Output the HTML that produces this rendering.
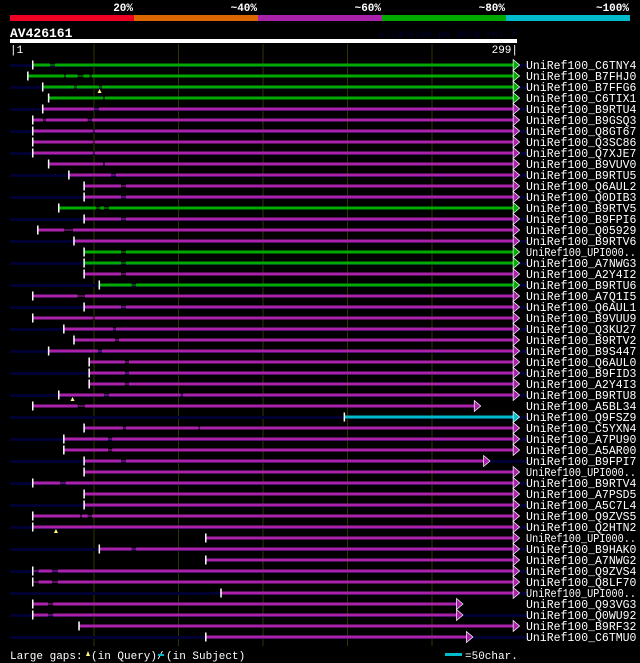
<!DOCTYPE html>
<html><head><meta charset="utf-8"><style>
body{margin:0;background:#000;width:640px;height:663px;overflow:hidden}
svg{display:block}
text{font-family:"Liberation Mono",monospace}
</style></head><body>
<svg id="c" width="640" height="663" xmlns="http://www.w3.org/2000/svg">
<rect x="0" y="0" width="640" height="663" fill="#000"/>
<g>
<rect x="10" y="15" width="124" height="6" fill="#ee0022"/>
<rect x="134" y="15" width="124" height="6" fill="#dd6600"/>
<rect x="258" y="15" width="124" height="6" fill="#aa22aa"/>
<rect x="382" y="15" width="124" height="6" fill="#00aa00"/>
<rect x="506" y="15" width="124" height="6" fill="#00bbcc"/>
<text x="133" y="11" fill="#fff" font-size="11" font-weight="bold" text-anchor="end">20%</text>
<text x="257" y="11" fill="#fff" font-size="11" font-weight="bold" text-anchor="end">~40%</text>
<text x="381" y="11" fill="#fff" font-size="11" font-weight="bold" text-anchor="end">~60%</text>
<text x="505" y="11" fill="#fff" font-size="11" font-weight="bold" text-anchor="end">~80%</text>
<text x="629" y="11" fill="#fff" font-size="11" font-weight="bold" text-anchor="end">~100%</text>
</g>
<text x="10" y="37" fill="#fff" font-size="13" font-weight="bold">AV426161</text>
<text x="516" y="37" fill="#000033" font-size="10" text-anchor="end">AlignView.pm Beta rel.7</text>
<rect x="10" y="39" width="507" height="4" fill="#fff"/>
<text x="10" y="53" fill="#fff" font-size="11">|1</text>
<text x="518" y="53" fill="#fff" font-size="11" text-anchor="end">299|</text>
<g id="grid"></g>
<g id="rows"></g>
<g>
<text x="10" y="659" fill="#fff" font-size="11">Large gaps:</text>
<polygon points="86,656 88,651 90,656" fill="#ffff88"/>
<text x="91" y="659" fill="#fff" font-size="11">(in Query)/</text>
<rect x="158" y="654" width="6" height="2" fill="#00bbcc"/>
<text x="166" y="659" fill="#fff" font-size="11">(in Subject)</text>
<rect x="445" y="653" width="17" height="3" fill="#00bbcc"/>
<text x="465" y="659" fill="#fff" font-size="11">=50char.</text>
</g>
</svg>
<script>
const names=["UniRef100_C6TNY4","UniRef100_B7FHJ0","UniRef100_B7FFG6","UniRef100_C6TIX1","UniRef100_B9RTU4","UniRef100_B9GSQ3","UniRef100_Q8GT67","UniRef100_Q3SC86","UniRef100_Q7XJE7","UniRef100_B9VUV0","UniRef100_B9RTU5","UniRef100_Q6AUL2","UniRef100_Q0DIB3","UniRef100_B9RTV5","UniRef100_B9FPI6","UniRef100_Q05929","UniRef100_B9RTV6","UniRef100_UPI000..","UniRef100_A7NWG3","UniRef100_A2Y4I2","UniRef100_B9RTU6","UniRef100_A7Q1I5","UniRef100_Q6AUL1","UniRef100_B9VUU9","UniRef100_Q3KU27","UniRef100_B9RTV2","UniRef100_B9S447","UniRef100_Q6AUL0","UniRef100_B9FID3","UniRef100_A2Y4I3","UniRef100_B9RTU8","UniRef100_A5BL34","UniRef100_Q9FSZ9","UniRef100_C5YXN4","UniRef100_A7PU90","UniRef100_A5AR00","UniRef100_B9FPI7","UniRef100_UPI000..","UniRef100_B9RTV4","UniRef100_A7PSD5","UniRef100_A5C7L4","UniRef100_Q9ZVS5","UniRef100_Q2HTN2","UniRef100_UPI000..","UniRef100_B9HAK0","UniRef100_A7NWG2","UniRef100_Q9ZVS4","UniRef100_Q8LF70","UniRef100_UPI000..","UniRef100_Q93VG3","UniRef100_Q0WU92","UniRef100_B9RF32","UniRef100_C6TMU0"];
const starts=[13.6,10.7,19.5,23,19.5,13.6,13.6,13.6,13.6,23,35,44,44,29,44,16.6,38,44,44,44,53,13.6,44,13.6,32,38,23,47,47,47,29,13.6,198,44,32,32,44,44,13.6,44,44,13.6,13.6,116,53,116,13.6,13.6,125,13.6,13.6,41,116];
const ends=[298,298,298,298,298,298,298,298,298,298,298,298,298,298,298,298,298,298,298,298,298,298,298,298,298,298,298,298,298,298,298,275,298,298,298,298,280.5,298,298,298,298,298,298,298,298,298,298,298,298,264.5,264.5,298,270.4];
const identity=["g","g","g","g","p","p","p","p","p","p","p","p","p","g","p","p","p","g","g","p","g","p","p","p","p","p","p","p","p","p","p","p","c","p","p","p","p","p","p","p","p","p","p","p","p","p","p","p","p","p","p","p","p"];
const gaps=[[[23.7,26.6]],[[32,33],[40,43.5],[47,48.5]],[[38,39.5],[52.6,54.4]],[[55,56.2]],[[49.7,52.6]],[[19.5,21.3],[46,48.5]],[[49,50.3]],[[49,50.3]],[[49,50.3]],[[55,56.2]],[[59.8,62.7]],[[65.7,68.6]],[[65.7,68.6]],[[51,53.3],[55.6,58.6]],[[65.7,68.6]],[[32,37.3]],[],[[65.7,68.6]],[[65.7,68.6]],[[65.7,68.6]],[[72,74.6]],[[40,44.4]],[[65.7,68.6]],[[49,50.3]],[[61,62.7]],[[62.1,64.5]],[[52,54.4]],[[68,70.4]],[[68,70.4]],[[68,70.4]],[[55.6,58.6],[101,102.4]],[[40,44.4]],[],[[66.8,68.6],[111.5,112.4]],[[58,60.4]],[[58,60.4]],[[65.7,68.6]],[],[[29.6,33]],[],[],[[41.4,42.6],[46,48.5]],[],[],[[72,74.6]],[],[[13.6,17],[24.8,28.3]],[[13.6,17],[24.8,28.3]],[],[[22.5,25.5]],[[22.5,25.5]],[],[]];
const queryGaps=[[2,53],[30,37],[42,27.2]];
const colors={g:"#00aa00",p:"#aa22aa",c:"#00bbcc"};
const S=10,K=1.69;
function xs(r){return S+r*K;}
function ys(i){return 65+i*11;}
const NS="http://www.w3.org/2000/svg";
function mk(t,a,p){const e=document.createElementNS(NS,t);for(const k in a)e.setAttribute(k,a[k]);p.appendChild(e);return e;}
const grid=document.getElementById('grid');
[50,100,150,200,250].forEach(function(r){
 const l=mk('line',{x1:xs(r)-0.5,x2:xs(r)-0.5,y1:44,y2:646,stroke:"#333300","stroke-width":1},grid);
 
 
});
const rows=document.getElementById('rows');
names.forEach(function(n,i){
 const g=mk('g',{},rows);
 
 
 const y=ys(i),c=colors[identity[i]];
 if(i%2===0)mk('rect',{x:10,y:y-1,width:518,height:3,fill:"#000033"},g);
 const x0=xs(starts[i]),x1=xs(ends[i]);
 let cur=x0;
 gaps[i].forEach(function(gp){
  const a=xs(gp[0]),b=xs(gp[1]);
  mk('rect',{x:cur,y:y-1.5,width:Math.max(0,a-cur),height:3,fill:c},g);
  mk('rect',{x:a,y:y-0.5,width:b-a,height:1,fill:c},g);
  cur=b;
 });
 mk('rect',{x:cur,y:y-1.5,width:x1-cur,height:3,fill:c},g);
 mk('rect',{x:x0-1,y:y-4.5,width:1.5,height:9,fill:"#fff"},g);
 mk('polygon',{points:(x1-0.5)+","+(y-5.5)+" "+(x1+6)+","+y+" "+(x1-0.5)+","+(y+5.5),fill:c,stroke:"#fff","stroke-width":0.7},g);
 const attrs={x:526,y:y+4,fill:"#fff","font-size":11.5};
 if(n.length>16){attrs.textLength=110;attrs.lengthAdjust="spacingAndGlyphs";}
 const t=mk('text',attrs,g);
 t.textContent=n;
 
 
});
queryGaps.forEach(function(q){
 const p=mk('polygon',{points:(xs(q[1])-2)+","+(ys(q[0])+6)+" "+xs(q[1])+","+(ys(q[0])+2)+" "+(xs(q[1])+2)+","+(ys(q[0])+6),fill:"#ffff88"},rows);
 
 
});
</script>
</body></html>
